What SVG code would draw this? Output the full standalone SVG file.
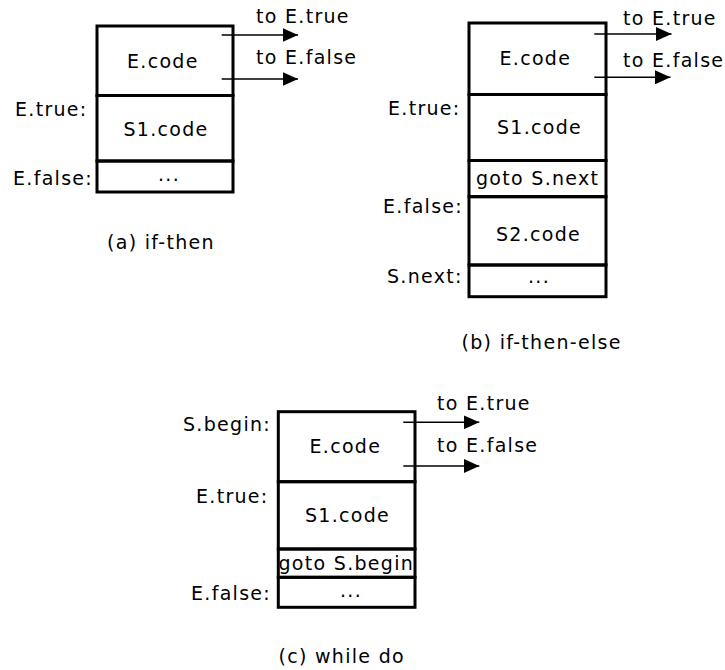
<svg xmlns="http://www.w3.org/2000/svg" width="725" height="670" viewBox="0 0 725 670">
  <style>
    text { font-family: "DejaVu Sans", Verdana, sans-serif; font-size: 19px; letter-spacing: 1.3px; fill: #000; }
    .cell { fill: none; stroke: #000; stroke-width: 3; }
    .jump { stroke: #000; stroke-width: 1.6; fill: none; marker-end: url(#head); }
  </style>
  <defs>
    <marker id="head" markerUnits="userSpaceOnUse" markerWidth="16" markerHeight="14" refX="15.5" refY="7" orient="auto">
      <path d="M0,0 L15.5,7 L0,14 Z" fill="#000"/>
    </marker>
  </defs>
  <rect width="725" height="670" fill="#fff"/>

  <!-- (a) if-then -->
  <g id="if-then">
    <g id="a-ecode"><text x="127" y="68">E.code</text><rect class="cell" x="97" y="26" width="136" height="69.5"/></g>
    <g id="a-s1code"><text x="123.5" y="136">S1.code</text><rect class="cell" x="97" y="95.5" width="136" height="65.5"/></g>
    <g id="a-next"><text x="158" y="181">...</text><rect class="cell" x="97" y="161" width="136" height="31"/></g>
    <text x="15" y="116">E.true:</text>
    <text x="13" y="185">E.false:</text>
    <text x="256" y="23">to E.true</text>
    <text x="256" y="64">to E.false</text>
    <text x="107" y="249">(a) if-then</text>
  </g>

  <!-- (b) if-then-else -->
  <g id="if-then-else">
    <g id="b-ecode"><text x="499.5" y="65">E.code</text><rect class="cell" x="469" y="23" width="137" height="71.5"/></g>
    <g id="b-s1code"><text x="497" y="134">S1.code</text><rect class="cell" x="469" y="94.5" width="137" height="66"/></g>
    <g id="b-goto"><text x="476" y="185">goto S.next</text><rect class="cell" x="469" y="160.5" width="137" height="36.2"/></g>
    <g id="b-s2code"><text x="496" y="241">S2.code</text><rect class="cell" x="469" y="196.7" width="137" height="68.3"/></g>
    <g id="b-next"><text x="528" y="283">...</text><rect class="cell" x="469" y="265" width="137" height="31.7"/></g>
    <text x="388" y="115">E.true:</text>
    <text x="383" y="213">E.false:</text>
    <text x="387" y="283">S.next:</text>
    <text x="623" y="25">to E.true</text>
    <text x="623" y="66.5">to E.false</text>
    <text x="461.5" y="349">(b) if-then-else</text>
  </g>

  <!-- (c) while do -->
  <g id="while-do">
    <g id="c-ecode"><text x="309.5" y="453">E.code</text><rect class="cell" x="278.3" y="411.7" width="136.7" height="70"/></g>
    <g id="c-s1code"><text x="305" y="522">S1.code</text><rect class="cell" x="278.3" y="481.7" width="136.7" height="67.3"/></g>
    <g id="c-goto"><text x="278.5" y="570">goto S.begin</text><rect class="cell" x="278.3" y="549" width="136.7" height="28.3"/></g>
    <g id="c-next"><text x="340" y="597">...</text><rect class="cell" x="278.3" y="577.3" width="136.7" height="30"/></g>
    <text x="183" y="431">S.begin:</text>
    <text x="196" y="503">E.true:</text>
    <text x="191" y="600">E.false:</text>
    <text x="437" y="409.5">to E.true</text>
    <text x="437" y="452">to E.false</text>
    <text x="278.5" y="663">(c) while do</text>
  </g>

  <!-- outgoing jumps -->
  <g id="connectors">
    <line class="jump" x1="221.7" y1="35" x2="298" y2="35"/>
    <line class="jump" x1="221.7" y1="79" x2="298" y2="79"/>
    <line class="jump" x1="594.3" y1="34" x2="671.5" y2="34"/>
    <line class="jump" x1="594.3" y1="77.3" x2="670.5" y2="77.3"/>
    <line class="jump" x1="403.3" y1="422.3" x2="479.3" y2="422.3"/>
    <line class="jump" x1="403.3" y1="466" x2="479.3" y2="466"/>
  </g>
</svg>
